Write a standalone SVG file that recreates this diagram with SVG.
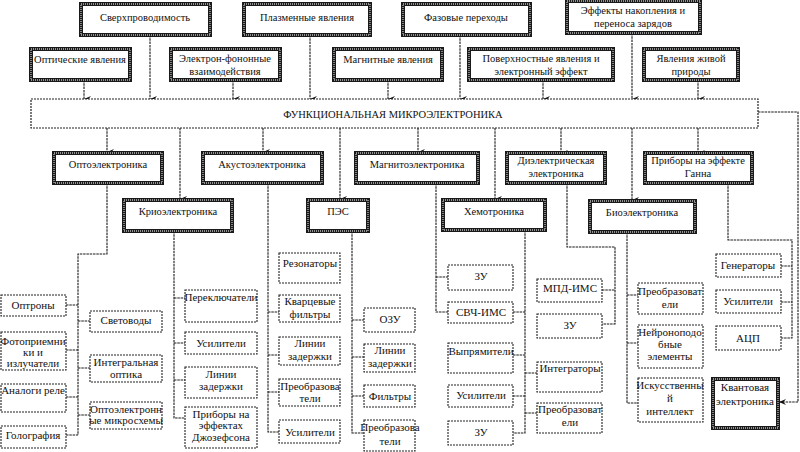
<svg xmlns="http://www.w3.org/2000/svg" width="800" height="452" viewBox="0 0 800 452">
<style>
.mo{fill:#fff;stroke:#1a1a1a;stroke-width:4}
.mi{fill:none;stroke:#bbb;stroke-width:1.3;stroke-dasharray:1 1}
.leaf{fill:#fff;stroke:#222;stroke-width:1.1;stroke-dasharray:2 1}
.bar{fill:#fff;stroke:#222;stroke-width:1.2;stroke-dasharray:2 1}
.c{fill:none;stroke:#1a1a1a;stroke-width:1.1;stroke-dasharray:2.5 0.8}
.a{marker-end:url(#ar)}
.t{font-size:10.5px}
</style>
<defs>
<marker id="ar" viewBox="0 0 6 7" refX="3" refY="7" markerWidth="6" markerHeight="7" markerUnits="userSpaceOnUse" orient="auto-start-reverse">
<path d="M0,0 L3,7 L6,0 L3,2.5 Z" fill="#111"/>
</marker>
<marker id="al" viewBox="0 0 7 6" refX="7" refY="3" markerWidth="7" markerHeight="6" markerUnits="userSpaceOnUse" orient="auto">
<path d="M0,0 L7,3 L0,6 L2.5,3 Z" fill="#111"/>
</marker>
</defs>

<g id="connectors">
<line class="c a" x1="150" y1="35" x2="150" y2="99"/>
<line class="c a" x1="310" y1="35" x2="310" y2="99"/>
<line class="c a" x1="460" y1="35" x2="460" y2="99"/>
<line class="c a" x1="632" y1="33" x2="632" y2="99"/>
<line class="c a" x1="84" y1="80" x2="84" y2="99"/>
<line class="c a" x1="233" y1="80" x2="233" y2="99"/>
<line class="c a" x1="388" y1="80" x2="388" y2="99"/>
<line class="c a" x1="543" y1="80" x2="543" y2="99"/>
<line class="c a" x1="698" y1="80" x2="698" y2="99"/>
<line class="c a" x1="107" y1="128" x2="107" y2="152"/>
<line class="c a" x1="180" y1="128" x2="180" y2="199"/>
<line class="c a" x1="263" y1="128" x2="263" y2="152"/>
<line class="c a" x1="340" y1="128" x2="340" y2="199"/>
<line class="c a" x1="418" y1="128" x2="418" y2="152"/>
<line class="c a" x1="495" y1="128" x2="495" y2="199"/>
<line class="c a" x1="561" y1="128" x2="561" y2="153"/>
<line class="c a" x1="632" y1="128" x2="632" y2="200"/>
<line class="c a" x1="698" y1="128" x2="698" y2="153"/>
<polyline class="c" points="758,112 798,112 798,402 779,402" marker-end="url(#al)"/>
<polyline class="c" points="107,183 107,254 78,254 78,435"/>
<line class="c" x1="66" y1="305" x2="78" y2="305"/>
<line class="c" x1="66" y1="350" x2="78" y2="350"/>
<line class="c" x1="66" y1="397" x2="78" y2="397"/>
<line class="c" x1="66" y1="435" x2="78" y2="435"/>
<line class="c" x1="78" y1="321" x2="90" y2="321"/>
<line class="c" x1="78" y1="368" x2="90" y2="368"/>
<line class="c" x1="78" y1="415" x2="90" y2="415"/>
<polyline class="c" points="174,231 174,418 185,418"/>
<line class="c" x1="174" y1="298" x2="185" y2="298"/>
<line class="c" x1="174" y1="343" x2="185" y2="343"/>
<line class="c" x1="174" y1="380" x2="185" y2="380"/>
<polyline class="c" points="268,183 268,432 279,432"/>
<line class="c" x1="268" y1="312" x2="279" y2="312"/>
<line class="c" x1="268" y1="355" x2="279" y2="355"/>
<line class="c" x1="268" y1="392" x2="279" y2="392"/>
<polyline class="c" points="352,231 352,433 364,433"/>
<line class="c" x1="352" y1="320" x2="364" y2="320"/>
<line class="c" x1="352" y1="357" x2="364" y2="357"/>
<line class="c" x1="352" y1="396" x2="364" y2="396"/>
<polyline class="c" points="436,183 436,312 448,312"/>
<line class="c" x1="436" y1="277" x2="448" y2="277"/>
<polyline class="c" points="525,230 525,433 513,433"/>
<line class="c" x1="513" y1="312" x2="525" y2="312"/>
<line class="c" x1="513" y1="355" x2="525" y2="355"/>
<line class="c" x1="513" y1="396" x2="525" y2="396"/>
<line class="c" x1="525" y1="373" x2="537" y2="373"/>
<line class="c" x1="525" y1="413" x2="537" y2="413"/>
<polyline class="c" points="567,183 567,247 615,247 615,324 602,324"/>
<line class="c" x1="602" y1="290" x2="615" y2="290"/>
<polyline class="c" points="627,232 627,403 638,403"/>
<line class="c" x1="627" y1="295" x2="638" y2="295"/>
<line class="c" x1="627" y1="343" x2="638" y2="343"/>
<polyline class="c" points="728,183 728,240 792,240 792,338 781,338"/>
<line class="c" x1="781" y1="266" x2="792" y2="266"/>
<line class="c" x1="781" y1="302" x2="792" y2="302"/>
</g>

<g id="nodes" font-family="Liberation Serif, DejaVu Serif, serif" font-size="11" fill="#111" text-anchor="middle">
<g id="n-sverh" class="t"><rect class="mo" x="81" y="4" width="129" height="31"/><rect class="mi" x="81" y="4" width="129" height="31"/><text x="145" y="21">Сверхпроводимость</text></g>
<g id="n-plazm" class="t"><rect class="mo" x="244" y="4" width="126" height="31"/><rect class="mi" x="244" y="4" width="126" height="31"/><text x="307" y="21">Плазменные явления</text></g>
<g id="n-faz" class="t"><rect class="mo" x="403" y="4" width="127" height="31"/><rect class="mi" x="403" y="4" width="127" height="31"/><text x="466" y="21">Фазовые переходы</text></g>
<g id="n-eff" class="t"><rect class="mo" x="567" y="1" width="133" height="32"/><rect class="mi" x="567" y="1" width="133" height="32"/><text x="633" y="14">Эффекты накопления и</text><text x="633" y="27">переноса зарядов</text></g>
<g id="n-opt" class="t"><rect class="mo" x="31" y="49" width="99" height="31"/><rect class="mi" x="31" y="49" width="99" height="31"/><text x="80" y="63">Оптические явления</text></g>
<g id="n-ef" class="t"><rect class="mo" x="171" y="49" width="109" height="31"/><rect class="mi" x="171" y="49" width="109" height="31"/><text x="225" y="62">Электрон-фононные</text><text x="225" y="75">взаимодействия</text></g>
<g id="n-magn" class="t"><rect class="mo" x="334" y="49" width="108" height="31"/><rect class="mi" x="334" y="49" width="108" height="31"/><text x="388" y="63">Магнитные явления</text></g>
<g id="n-pov" class="t"><rect class="mo" x="469" y="49" width="144" height="31"/><rect class="mi" x="469" y="49" width="144" height="31"/><text x="541" y="62">Поверхностные явления и</text><text x="541" y="75">электронный эффект</text></g>
<g id="n-zhiv" class="t"><rect class="mo" x="644" y="49" width="94" height="31"/><rect class="mi" x="644" y="49" width="94" height="31"/><text x="691" y="62">Явления живой</text><text x="691" y="75">природы</text></g>
<g id="n-main" class="t"><rect class="bar" x="31" y="99" width="727" height="29"/><text x="393" y="118">ФУНКЦИОНАЛЬНАЯ МИКРОЭЛЕКТРОНИКА</text></g>
<g id="n-optoel" class="t"><rect class="mo" x="54" y="153" width="108" height="30"/><rect class="mi" x="54" y="153" width="108" height="30"/><text x="108" y="168">Оптоэлектроника</text></g>
<g id="n-akust" class="t"><rect class="mo" x="203" y="153" width="119" height="30"/><rect class="mi" x="203" y="153" width="119" height="30"/><text x="262" y="168">Акустоэлектроника</text></g>
<g id="n-magnel" class="t"><rect class="mo" x="356" y="153" width="122" height="30"/><rect class="mi" x="356" y="153" width="122" height="30"/><text x="417" y="168">Магнитоэлектроника</text></g>
<g id="n-diel" class="t"><rect class="mo" x="507" y="153" width="98" height="30"/><rect class="mi" x="507" y="153" width="98" height="30"/><text x="556" y="164">Диэлектрическая</text><text x="556" y="177">электроника</text></g>
<g id="n-gann" class="t"><rect class="mo" x="645" y="153" width="107" height="30"/><rect class="mi" x="645" y="153" width="107" height="30"/><text x="698" y="164">Приборы на эффекте</text><text x="698" y="177">Ганна</text></g>
<g id="n-krio" class="t"><rect class="mo" x="124" y="200" width="108" height="31"/><rect class="mi" x="124" y="200" width="108" height="31"/><text x="178" y="215">Криоэлектроника</text></g>
<g id="n-pes" class="t"><rect class="mo" x="308" y="200" width="60" height="31"/><rect class="mi" x="308" y="200" width="60" height="31"/><text x="338" y="215">ПЭС</text></g>
<g id="n-hemo" class="t"><rect class="mo" x="443" y="200" width="102" height="30"/><rect class="mi" x="443" y="200" width="102" height="30"/><text x="494" y="215">Хемотроника</text></g>
<g id="n-bio" class="t"><rect class="mo" x="590" y="201" width="105" height="31"/><rect class="mi" x="590" y="201" width="105" height="31"/><text x="642" y="216">Биоэлектроника</text></g>
<g id="n-optrony"><rect class="leaf" x="1" y="295" width="65" height="21"/><text x="33" y="309">Оптроны</text></g>
<g id="n-foto"><rect class="leaf" x="1" y="332" width="65" height="38"/><text x="33" y="345">Фотоприемни</text><text x="33" y="356">ки и</text><text x="33" y="367">излучатели</text></g>
<g id="n-analog"><rect class="leaf" x="1" y="384" width="65" height="28"/><text x="33" y="394">Аналоги реле</text></g>
<g id="n-golo"><rect class="leaf" x="1" y="426" width="65" height="22"/><text x="33" y="439">Голография</text></g>
<g id="n-svet"><rect class="leaf" x="90" y="311" width="72" height="21"/><text x="126" y="324">Световоды</text></g>
<g id="n-integ"><rect class="leaf" x="90" y="355" width="72" height="27"/><text x="126" y="366">Интегральная</text><text x="126" y="378">оптика</text></g>
<g id="n-optoms"><rect class="leaf" x="90" y="402" width="72" height="27"/><text x="126" y="413">Оптоэлектронн</text><text x="126" y="424">ые микросхемы</text></g>
<g id="n-perekl"><rect class="leaf" x="185" y="290" width="72" height="32"/><text x="221" y="301">Переключатели</text></g>
<g id="n-usil1"><rect class="leaf" x="185" y="332" width="72" height="22"/><text x="221" y="347">Усилители</text></g>
<g id="n-lin1"><rect class="leaf" x="185" y="367" width="72" height="31"/><text x="221" y="378">Линии</text><text x="221" y="390">задержки</text></g>
<g id="n-dzh"><rect class="leaf" x="185" y="407" width="72" height="41"/><text x="221" y="418">Приборы на</text><text x="221" y="429">эффектах</text><text x="221" y="441">Джозефсона</text></g>
<g id="n-rezon"><rect class="leaf" x="279" y="253" width="61" height="30"/><text x="310" y="267">Резонаторы</text></g>
<g id="n-kvarc"><rect class="leaf" x="279" y="295" width="61" height="27"/><text x="310" y="305">Кварцевые</text><text x="310" y="318">фильтры</text></g>
<g id="n-lin2"><rect class="leaf" x="279" y="337" width="61" height="28"/><text x="310" y="347">Линии</text><text x="310" y="360">задержки</text></g>
<g id="n-preob1"><rect class="leaf" x="279" y="379" width="61" height="27"/><text x="310" y="390">Преобразова</text><text x="310" y="402">тели</text></g>
<g id="n-usil2"><rect class="leaf" x="279" y="420" width="61" height="23"/><text x="310" y="436">Усилители</text></g>
<g id="n-ozu"><rect class="leaf" x="364" y="308" width="51" height="24"/><text x="390" y="323">ОЗУ</text></g>
<g id="n-lin3"><rect class="leaf" x="364" y="344" width="51" height="28"/><text x="390" y="354">Линии</text><text x="390" y="367">задержки</text></g>
<g id="n-filtr"><rect class="leaf" x="364" y="385" width="51" height="22"/><text x="390" y="400">Фильтры</text></g>
<g id="n-preob2"><rect class="leaf" x="364" y="420" width="51" height="31"/><text x="390" y="431">Преобразова</text><text x="390" y="445">тели</text></g>
<g id="n-zu1"><rect class="leaf" x="448" y="265" width="65" height="25"/><text x="481" y="280">ЗУ</text></g>
<g id="n-svch"><rect class="leaf" x="448" y="302" width="65" height="21"/><text x="481" y="316">СВЧ-ИМС</text></g>
<g id="n-vypr"><rect class="leaf" x="448" y="343" width="65" height="30"/><text x="481" y="355">Выпрямители</text></g>
<g id="n-usil3"><rect class="leaf" x="448" y="385" width="65" height="22"/><text x="481" y="399">Усилители</text></g>
<g id="n-zu2"><rect class="leaf" x="448" y="421" width="65" height="24"/><text x="481" y="436">ЗУ</text></g>
<g id="n-integr"><rect class="leaf" x="537" y="362" width="65" height="30"/><text x="570" y="372">Интеграторы</text></g>
<g id="n-preob3"><rect class="leaf" x="537" y="403" width="65" height="30"/><text x="570" y="413">Преобразоват</text><text x="570" y="426">ели</text></g>
<g id="n-mpd"><rect class="leaf" x="537" y="279" width="65" height="23"/><text x="570" y="292">МПД-ИМС</text></g>
<g id="n-zu3"><rect class="leaf" x="537" y="314" width="65" height="24"/><text x="570" y="329">ЗУ</text></g>
<g id="n-preob4"><rect class="leaf" x="638" y="283" width="65" height="31"/><text x="670" y="295">Преобразоват</text><text x="670" y="308">ели</text></g>
<g id="n-neir"><rect class="leaf" x="638" y="325" width="65" height="43"/><text x="670" y="336">Нейроноподо</text><text x="670" y="348">бные</text><text x="670" y="360">элементы</text></g>
<g id="n-ii"><rect class="leaf" x="638" y="378" width="65" height="44"/><text x="670" y="389">Искусственны</text><text x="670" y="402">й</text><text x="670" y="415">интеллект</text></g>
<g id="n-gen"><rect class="leaf" x="716" y="254" width="65" height="23"/><text x="748" y="269">Генераторы</text></g>
<g id="n-usil4"><rect class="leaf" x="716" y="290" width="65" height="23"/><text x="748" y="305">Усилители</text></g>
<g id="n-acp"><rect class="leaf" x="716" y="326" width="65" height="24"/><text x="748" y="342">АЦП</text></g>
<g id="n-kvant"><rect class="mo" x="713" y="379" width="65" height="49"/><rect class="mi" x="713" y="379" width="65" height="49"/><text x="745" y="391">Квантовая</text><text x="745" y="405">электроника</text></g>
</g>
</svg>
